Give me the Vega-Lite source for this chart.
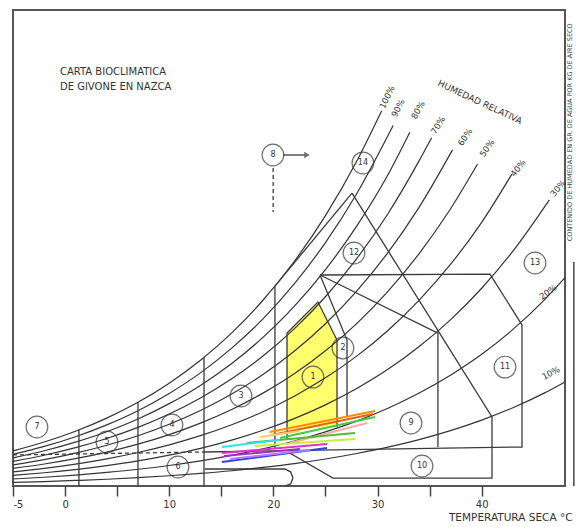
{
  "$schema": "https://vega.github.io/schema/vega-lite/v6.json",
  "width": 552,
  "height": 476,
  "autosize": {"type": "none"},
  "padding": {"left": 13, "top": 10, "right": 11, "bottom": 41},
  "background": "white",
  "config": {"view": {"stroke": "#555", "strokeWidth": 2}, "font": "DejaVu Sans"},
  "datasets": {
    "rhc": [
      {"rh":100,"T":-5,"W":2.60},{"rh":100,"T":-2,"W":3.26},{"rh":100,"T":1,"W":4.06},{"rh":100,"T":4,"W":5.03},{"rh":100,"T":7,"W":6.20},{"rh":100,"T":10,"W":7.62},{"rh":100,"T":13,"W":9.32},{"rh":100,"T":16,"W":11.34},{"rh":100,"T":19,"W":13.76},{"rh":100,"T":22,"W":16.63},{"rh":100,"T":25,"W":20.03},{"rh":100,"T":28,"W":24.06},{"rh":100,"T":30.4,"W":27.8},
      {"rh":90,"T":-5,"W":2.34},{"rh":90,"T":-2,"W":2.93},{"rh":90,"T":1,"W":3.65},{"rh":90,"T":4,"W":4.53},{"rh":90,"T":7,"W":5.58},{"rh":90,"T":10,"W":6.86},{"rh":90,"T":13,"W":8.38},{"rh":90,"T":16,"W":10.21},{"rh":90,"T":19,"W":12.38},{"rh":90,"T":22,"W":14.97},{"rh":90,"T":25,"W":18.03},{"rh":90,"T":28,"W":21.65},{"rh":90,"T":31.5,"W":26.7},
      {"rh":80,"T":-5,"W":2.08},{"rh":80,"T":-2,"W":2.61},{"rh":80,"T":1,"W":3.25},{"rh":80,"T":4,"W":4.02},{"rh":80,"T":7,"W":4.96},{"rh":80,"T":10,"W":6.10},{"rh":80,"T":13,"W":7.45},{"rh":80,"T":16,"W":9.07},{"rh":80,"T":19,"W":11.01},{"rh":80,"T":22,"W":13.30},{"rh":80,"T":25,"W":16.03},{"rh":80,"T":28,"W":19.25},{"rh":80,"T":31,"W":23.05},{"rh":80,"T":33.1,"W":26.2},
      {"rh":70,"T":-5,"W":1.82},{"rh":70,"T":-2,"W":2.28},{"rh":70,"T":1,"W":2.84},{"rh":70,"T":4,"W":3.52},{"rh":70,"T":7,"W":4.34},{"rh":70,"T":10,"W":5.33},{"rh":70,"T":13,"W":6.52},{"rh":70,"T":16,"W":7.94},{"rh":70,"T":19,"W":9.63},{"rh":70,"T":22,"W":11.64},{"rh":70,"T":25,"W":14.02},{"rh":70,"T":28,"W":16.84},{"rh":70,"T":31,"W":20.17},{"rh":70,"T":34,"W":24.10},{"rh":70,"T":35.2,"W":25.8},
      {"rh":60,"T":-5,"W":1.56},{"rh":60,"T":-2,"W":1.95},{"rh":60,"T":1,"W":2.43},{"rh":60,"T":4,"W":3.02},{"rh":60,"T":7,"W":3.72},{"rh":60,"T":10,"W":4.57},{"rh":60,"T":13,"W":5.59},{"rh":60,"T":16,"W":6.81},{"rh":60,"T":19,"W":8.26},{"rh":60,"T":22,"W":9.98},{"rh":60,"T":25,"W":12.02},{"rh":60,"T":28,"W":14.44},{"rh":60,"T":31,"W":17.29},{"rh":60,"T":34,"W":20.66},{"rh":60,"T":37.2,"W":24.9},
      {"rh":50,"T":-5,"W":1.30},{"rh":50,"T":-2,"W":1.63},{"rh":50,"T":1,"W":2.03},{"rh":50,"T":4,"W":2.51},{"rh":50,"T":7,"W":3.10},{"rh":50,"T":10,"W":3.81},{"rh":50,"T":13,"W":4.66},{"rh":50,"T":16,"W":5.67},{"rh":50,"T":19,"W":6.88},{"rh":50,"T":22,"W":8.31},{"rh":50,"T":25,"W":10.02},{"rh":50,"T":28,"W":12.03},{"rh":50,"T":31,"W":14.41},{"rh":50,"T":34,"W":17.22},{"rh":50,"T":37,"W":20.52},{"rh":50,"T":39.6,"W":23.85},
      {"rh":40,"T":-5,"W":1.04},{"rh":40,"T":-2,"W":1.30},{"rh":40,"T":1,"W":1.62},{"rh":40,"T":4,"W":2.01},{"rh":40,"T":7,"W":2.48},{"rh":40,"T":10,"W":3.05},{"rh":40,"T":13,"W":3.73},{"rh":40,"T":16,"W":4.54},{"rh":40,"T":19,"W":5.50},{"rh":40,"T":22,"W":6.65},{"rh":40,"T":25,"W":8.01},{"rh":40,"T":28,"W":9.62},{"rh":40,"T":31,"W":11.52},{"rh":40,"T":34,"W":13.77},{"rh":40,"T":37,"W":16.41},{"rh":40,"T":40,"W":19.53},{"rh":40,"T":42.9,"W":23.1},
      {"rh":30,"T":-5,"W":0.78},{"rh":30,"T":-2,"W":0.98},{"rh":30,"T":1,"W":1.22},{"rh":30,"T":4,"W":1.51},{"rh":30,"T":7,"W":1.86},{"rh":30,"T":10,"W":2.29},{"rh":30,"T":13,"W":2.79},{"rh":30,"T":16,"W":3.40},{"rh":30,"T":19,"W":4.13},{"rh":30,"T":22,"W":4.99},{"rh":30,"T":25,"W":6.01},{"rh":30,"T":28,"W":7.22},{"rh":30,"T":31,"W":8.64},{"rh":30,"T":34,"W":10.33},{"rh":30,"T":37,"W":12.31},{"rh":30,"T":40,"W":14.65},{"rh":30,"T":43,"W":17.40},{"rh":30,"T":46.5,"W":21.2},
      {"rh":20,"T":-5,"W":0.52},{"rh":20,"T":-2,"W":0.65},{"rh":20,"T":1,"W":0.81},{"rh":20,"T":4,"W":1.01},{"rh":20,"T":7,"W":1.24},{"rh":20,"T":10,"W":1.52},{"rh":20,"T":13,"W":1.86},{"rh":20,"T":16,"W":2.27},{"rh":20,"T":19,"W":2.75},{"rh":20,"T":22,"W":3.33},{"rh":20,"T":25,"W":4.01},{"rh":20,"T":28,"W":4.81},{"rh":20,"T":31,"W":5.76},{"rh":20,"T":34,"W":6.89},{"rh":20,"T":37,"W":8.21},{"rh":20,"T":40,"W":9.76},{"rh":20,"T":43,"W":11.60},{"rh":20,"T":46,"W":13.77},{"rh":20,"T":48,"W":15.43},
      {"rh":10,"T":-5,"W":0.26},{"rh":10,"T":-2,"W":0.33},{"rh":10,"T":1,"W":0.41},{"rh":10,"T":4,"W":0.50},{"rh":10,"T":7,"W":0.62},{"rh":10,"T":10,"W":0.76},{"rh":10,"T":13,"W":0.93},{"rh":10,"T":16,"W":1.13},{"rh":10,"T":19,"W":1.38},{"rh":10,"T":22,"W":1.66},{"rh":10,"T":25,"W":2.00},{"rh":10,"T":28,"W":2.41},{"rh":10,"T":31,"W":2.88},{"rh":10,"T":34,"W":3.44},{"rh":10,"T":37,"W":4.10},{"rh":10,"T":40,"W":4.88},{"rh":10,"T":43,"W":5.80},{"rh":10,"T":46,"W":6.88},{"rh":10,"T":48,"W":7.71}
    ],
    "zones": [
      {"id":"v1","o":1,"T":1.33,"W":4.15},{"id":"v1","o":2,"T":1.33,"W":0},
      {"id":"v2","o":1,"T":7.0,"W":6.2},{"id":"v2","o":2,"T":7.0,"W":0},
      {"id":"v3","o":1,"T":13.34,"W":9.52},{"id":"v3","o":2,"T":13.34,"W":0},
      {"id":"v4","o":1,"T":20.15,"W":14.8},{"id":"v4","o":2,"T":20.15,"W":2.81},
      {"id":"z14","o":1,"T":20.15,"W":14.8},{"id":"z14","o":2,"T":27.55,"W":21.7},
      {"id":"zA","o":1,"T":27.55,"W":21.7},{"id":"zA","o":2,"T":40.99,"W":5.11},{"id":"zA","o":3,"T":40.99,"W":0.59},{"id":"zA","o":4,"T":25.72,"W":0.59},{"id":"zA","o":5,"T":21.40,"W":2.52},
      {"id":"zB","o":1,"T":24.48,"W":15.63},{"id":"zB","o":2,"T":40.80,"W":15.70},{"id":"zB","o":3,"T":43.87,"W":11.93},{"id":"zB","o":4,"T":43.87,"W":2.89},{"id":"zB","o":5,"T":13.43,"W":2.52},
      {"id":"zC","o":1,"T":24.48,"W":15.63},{"id":"zC","o":2,"T":35.80,"W":11.33},{"id":"zC","o":3,"T":35.80,"W":2.89},
      {"id":"z2","o":1,"T":24.48,"W":15.63},{"id":"z2","o":2,"T":27.07,"W":10.81},{"id":"z2","o":3,"T":27.07,"W":5.11},
      {"id":"z1","o":1,"T":21.31,"W":3.41},{"id":"z1","o":2,"T":21.31,"W":11.33},{"id":"z1","o":3,"T":24.28,"W":13.63},{"id":"z1","o":4,"T":26.11,"W":10.81},{"id":"z1","o":5,"T":26.11,"W":4.37},
      {"id":"z6","o":1,"T":13.43,"W":1.26},{"id":"z6","o":2,"T":21.11,"W":1.26},{"id":"z6","o":3,"T":21.65,"W":1.05},{"id":"z6","o":4,"T":21.88,"W":0.59},{"id":"z6","o":5,"T":21.65,"W":0.15},{"id":"z6","o":6,"T":21.11,"W":0},
      {"id":"arr","o":1,"T":20.92,"W":24.52},{"id":"arr","o":2,"T":23.0,"W":24.52}
    ],
    "dashed": [
      {"id":"d1","o":1,"T":19.98,"W":23.56},{"id":"d1","o":2,"T":19.98,"W":20.30},
      {"id":"d2","o":1,"T":-5,"W":2.30},{"id":"d2","o":2,"T":13.43,"W":2.52}
    ],
    "yellow": [
      {"T":21.31,"W":11.33,"W2":4.15},{"T":24.28,"W":13.63,"W2":4.29},{"T":26.11,"W":10.81,"W2":4.37}
    ],
    "months": [
      {"mes":"Ene","T":19.67,"W":4.00},{"mes":"Ene","T":29.76,"W":5.56},
      {"mes":"Feb","T":19.86,"W":3.78},{"mes":"Feb","T":29.56,"W":5.33},
      {"mes":"Mar","T":20.63,"W":3.56},{"mes":"Mar","T":29.76,"W":5.11},
      {"mes":"Abr","T":21.59,"W":3.19},{"mes":"Abr","T":28.99,"W":4.67},
      {"mes":"May","T":18.71,"W":3.63},{"mes":"May","T":22.55,"W":4.07},
      {"mes":"Jun","T":17.47,"W":3.19},{"mes":"Jun","T":27.84,"W":3.93},
      {"mes":"Jul","T":18.23,"W":2.96},{"mes":"Jul","T":27.84,"W":3.48},
      {"mes":"Ago","T":15.06,"W":2.89},{"mes":"Ago","T":20.63,"W":3.41},
      {"mes":"Sep","T":15.06,"W":2.44},{"mes":"Sep","T":25.15,"W":3.11},
      {"mes":"Oct","T":15.25,"W":2.22},{"mes":"Oct","T":22.55,"W":2.74},
      {"mes":"Nov","T":15.06,"W":1.78},{"mes":"Nov","T":25.15,"W":2.81},
      {"mes":"Dic","T":15.83,"W":2.00},{"mes":"Dic","T":23.52,"W":2.67}
    ],
    "circles": [
      {"n":"1","T":23.80,"W":8.07},{"n":"2","T":26.68,"W":10.22},{"n":"3","T":16.89,"W":6.67},{"n":"4","T":10.26,"W":4.52},
      {"n":"5","T":4.02,"W":3.26},{"n":"6","T":10.84,"W":1.41},{"n":"7","T":-2.70,"W":4.37},{"n":"8","T":19.96,"W":24.52},
      {"n":"9","T":33.21,"W":4.67},{"n":"10","T":34.27,"W":1.48},{"n":"11","T":42.24,"W":8.81},{"n":"12","T":27.74,"W":17.26},
      {"n":"13","T":45.12,"W":16.52},{"n":"14","T":28.60,"W":23.93}
    ],
    "rhlabels": [
      {"lab":"100%","rh":100,"T":30.91,"W":28.81},{"lab":"90%","rh":90,"T":31.96,"W":28.0},{"lab":"80%","rh":80,"T":33.88,"W":27.85},
      {"lab":"70%","rh":70,"T":35.80,"W":26.74},{"lab":"60%","rh":60,"T":38.40,"W":25.85},{"lab":"50%","rh":50,"T":40.51,"W":25.04},
      {"lab":"40%","rh":40,"T":43.49,"W":23.56},{"lab":"30%","rh":30,"T":47.33,"W":22.07},{"lab":"20%","rh":20,"T":46.36,"W":14.37},
      {"lab":"10%","rh":10,"T":46.65,"W":8.37}
    ]
  },
  "encoding": {
    "x": {"field": "T", "type": "quantitative", "scale": {"domain": [-5, 48], "nice": false, "zero": false},
      "axis": {"values": [-5, 0, 5, 10, 15, 20, 25, 30, 35, 40], "labelExpr": "indexof([5,15,25,35], datum.value) >= 0 ? '' : toString(datum.value)",
        "domain": false, "grid": false, "tickSize": 10, "tickWidth": 1.5, "tickColor": "#444", "labelFontSize": 10, "labelColor": "#333", "labelPadding": 3,
        "title": "TEMPERATURA SECA °C", "titleAnchor": "end", "titleAlign": "right", "titleX": 559, "titleY": 31, "titleBaseline": "middle", "titleFontSize": 10.5, "titleFontWeight": "normal", "titleColor": "#333"}},
    "y": {"field": "W", "type": "quantitative", "scale": {"domain": [0, 35.26], "nice": false, "zero": true}, "axis": null}
  },
  "layer": [
    {"data": {"name": "yellow"}, "mark": {"type": "area", "color": "#ffff6e", "opacity": 1}, "encoding": {"y2": {"field": "W2"}}},
    {"data": {"name": "rhc"}, "mark": {"type": "line", "interpolate": "monotone", "stroke": "#333", "strokeWidth": 1.2},
      "encoding": {"detail": {"field": "rh", "type": "nominal"}}},
    {"data": {"name": "zones"}, "mark": {"type": "line", "stroke": "#3a3a3a", "strokeWidth": 1.3},
      "encoding": {"detail": {"field": "id", "type": "nominal"}, "order": {"field": "o", "type": "quantitative"}}},
    {"data": {"name": "dashed"}, "mark": {"type": "line", "stroke": "#3a3a3a", "strokeWidth": 1.3, "strokeDash": [4, 3]},
      "encoding": {"detail": {"field": "id", "type": "nominal"}, "order": {"field": "o", "type": "quantitative"}}},
    {"data": {"name": "months"}, "mark": {"type": "line", "strokeWidth": 2},
      "encoding": {"color": {"field": "mes", "type": "nominal", "legend": null,
        "scale": {"domain": ["Ene","Feb","Mar","Abr","May","Jun","Jul","Ago","Sep","Oct","Nov","Dic"],
                  "range": ["#ff8c00","#e8601a","#44cc44","#ffaaaa","#ffcc66","#55bb33","#ccee33","#33e0f0","#e030d0","#9933bb","#3344dd","#bb77ff"]}}}},
    {"data": {"name": "circles"}, "mark": {"type": "point", "shape": "circle", "size": 470, "filled": false, "stroke": "#333", "strokeWidth": 1.2}},
    {"data": {"name": "circles"}, "mark": {"type": "text", "fontSize": 8, "color": "#333", "baseline": "middle", "align": "center"},
      "encoding": {"text": {"field": "n"}}},
    {"data": {"values": [{"T": 23.23, "W": 24.52}]}, "mark": {"type": "point", "shape": "triangle-right", "size": 40, "filled": true, "color": "#333"}},
    {"data": {"name": "rhlabels"}, "mark": {"type": "text", "fontSize": 8.5, "color": "#333", "baseline": "middle", "align": "center"},
      "encoding": {"text": {"field": "lab"}, "angle": {"field": "rh", "type": "quantitative", "scale": {"domain": [10, 20, 30, 100], "range": [332, 325, 310, 295]}, "legend": null}}},
    {"data": {"values": [{"txt": "CARTA BIOCLIMATICA", "T": -0.49, "W": 30.67}, {"txt": "DE GIVONE EN NAZCA", "T": -0.49, "W": 29.56}]},
      "mark": {"type": "text", "fontSize": 10, "letterSpacing": 0.3, "color": "#333", "align": "left", "baseline": "middle"},
      "encoding": {"text": {"field": "txt"}}},
    {"data": {"values": [{"txt": "HUMEDAD RELATIVA", "T": 39.84, "W": 28.44}]},
      "mark": {"type": "text", "fontSize": 9, "letterSpacing": 1.3, "color": "#333", "align": "center", "baseline": "middle", "angle": 25},
      "encoding": {"text": {"field": "txt"}}},
    {"data": {"values": [{"T": 48.85, "W": 0, "W2": 16.6}]}, "mark": {"type": "rule", "stroke": "#444", "strokeWidth": 1.5, "clip": false},
      "encoding": {"y2": {"field": "W2"}}},
    {"data": {"values": [{"txt": "CONTENIDO DE HUMEDAD EN GR. DE AGUA POR KG DE AIRE SECO", "T": 48.45, "W": 26.2}]},
      "mark": {"type": "text", "fontSize": 6.5, "color": "#444", "align": "center", "baseline": "middle", "angle": 270},
      "encoding": {"text": {"field": "txt"}}}
  ]
}
